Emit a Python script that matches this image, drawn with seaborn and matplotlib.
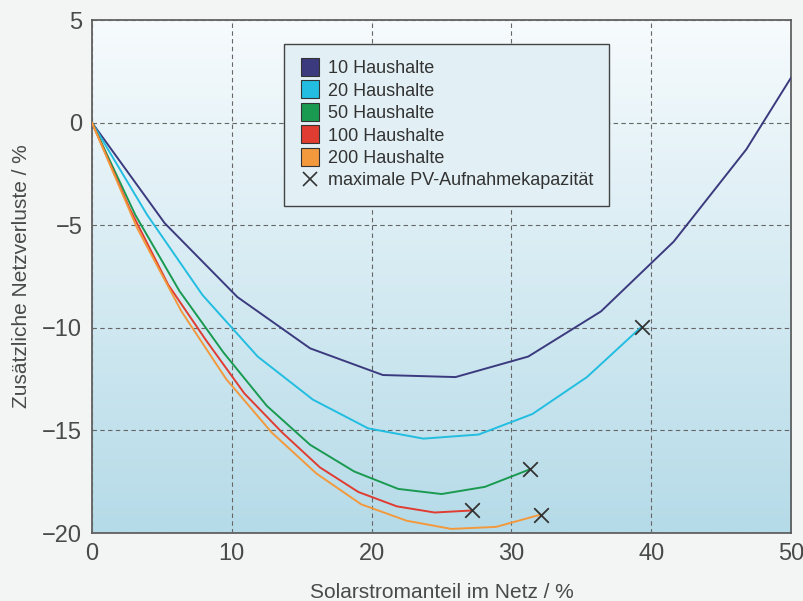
import numpy as np
import pandas as pd
import matplotlib
matplotlib.use('Agg')
import matplotlib.pyplot as plt
import seaborn as sns
from matplotlib.lines import Line2D
from matplotlib.colors import LinearSegmentedColormap

sns.set_style('white')
plt.rcParams['font.family'] = ['Liberation Sans', 'DejaVu Sans']

# Daten
x_10 = [0, 5.2, 10.4, 15.6, 20.8, 26.0, 31.2, 36.4, 41.6, 46.8, 50.0]
y_10 = [0, -4.9, -8.5, -11.0, -12.3, -12.4, -11.4, -9.2, -5.8, -1.3, 2.2]

x_20 = [0, 3.95, 7.9, 11.85, 15.8, 19.75, 23.7, 27.65, 31.5, 35.4, 39.3]
y_20 = [0, -4.5, -8.4, -11.4, -13.5, -14.9, -15.4, -15.2, -14.2, -12.4, -9.95]

x_50 = [0, 3.1, 6.25, 9.4, 12.5, 15.6, 18.75, 21.9, 25.0, 28.1, 31.3]
y_50 = [0, -4.5, -8.2, -11.2, -13.8, -15.7, -17.0, -17.85, -18.1, -17.75, -16.9]

x_100 = [0, 2.7, 5.45, 8.15, 10.9, 13.6, 16.3, 19.05, 21.8, 24.5, 27.2]
y_100 = [0, -4.2, -7.9, -10.6, -13.2, -15.1, -16.8, -18.0, -18.7, -19.0, -18.9]

x_200 = [0, 3.2, 6.4, 9.6, 12.85, 16.05, 19.25, 22.5, 25.7, 28.9, 32.1]
y_200 = [0, -5.1, -9.2, -12.5, -15.1, -17.1, -18.6, -19.4, -19.8, -19.7, -19.1]

labels = ['10 Haushalte', '20 Haushalte', '50 Haushalte', '100 Haushalte', '200 Haushalte']
colors = ['#3b3a7e', '#22bde0', '#1a9a50', '#e03c31', '#f3993d']

# Maximale PV-Aufnahmekapazitaet (Endpunkte)
max_x = [x_20[-1], x_50[-1], x_100[-1], x_200[-1]]
max_y = [y_20[-1], y_50[-1], y_100[-1], y_200[-1]]

frames = []
for lab, xs, ys in zip(labels, [x_10, x_20, x_50, x_100, x_200],
                       [y_10, y_20, y_50, y_100, y_200]):
    frames.append(pd.DataFrame({'x': xs, 'y': ys, 'Serie': lab}))
data = pd.concat(frames, ignore_index=True)
pts = pd.DataFrame({'x': max_x, 'y': max_y})

fig = plt.figure(figsize=(8.04, 6.01), dpi=100, facecolor='#f3f4f4')
ax = fig.add_axes([0.1144, 0.1131, 0.8696, 0.8536])

# Hintergrundverlauf
bg = LinearSegmentedColormap.from_list('bg', ['#f7fbfd', '#b5dbe8'])
ax.imshow(np.linspace(0, 1, 256).reshape(-1, 1), cmap=bg, aspect='auto',
          extent=[0, 50, -20, 5], zorder=0, origin='upper')

sns.lineplot(data=data, x='x', y='y', hue='Serie', palette=dict(zip(labels, colors)),
             sort=False, estimator=None, linewidth=1.4, ax=ax, legend=False, zorder=3)
sns.scatterplot(data=pts, x='x', y='y', marker='x', color='#333333', s=110,
                linewidth=1.3, ax=ax, zorder=4)

ax.set_xlim(0, 50)
ax.set_ylim(-20, 5)
ax.set_xticks([0, 10, 20, 30, 40, 50])
ax.set_yticks([-20, -15, -10, -5, 0, 5])
ax.set_yticklabels(['\u221220', '\u221215', '\u221210', '\u22125', '0', '5'])
ax.grid(True, color='#666666', linestyle=(0, (4, 3)), linewidth=0.8, zorder=1)
ax.set_axisbelow(False)
for line in ax.get_xgridlines() + ax.get_ygridlines():
    line.set_zorder(1)
ax.tick_params(axis='both', length=0, labelsize=17, labelcolor='#4a4a4a', pad=7)
for s in ax.spines.values():
    s.set_color('#555555')
    s.set_linewidth(1.2)
ax.set_xlabel('Solarstromanteil im Netz / %', fontsize=15, color='#4a4a4a', labelpad=13)
ax.set_ylabel('Zusätzliche Netzverluste / %', fontsize=15, color='#4a4a4a', labelpad=8)

handles = [Line2D([], [], linestyle='none', marker='s', markersize=13,
                  markerfacecolor=c, markeredgecolor='#333333', markeredgewidth=0.8)
           for c in colors]
handles.append(Line2D([], [], linestyle='none', marker='x', markersize=10,
                      color='#333333', markeredgewidth=1.2))
leg = ax.legend(handles, labels + ['maximale PV-Aufnahmekapazität'],
                loc='upper left', bbox_to_anchor=(0.275, 0.953), borderaxespad=0,
                fontsize=13, frameon=True, fancybox=False, framealpha=1,
                handletextpad=0.5, labelspacing=0.3, borderpad=0.9, handlelength=1.0)
leg.get_frame().set_facecolor('#e2f0f5')
leg.get_frame().set_edgecolor('#444444')
leg.get_frame().set_linewidth(1.0)
for t in leg.get_texts():
    t.set_color('#333333')
leg.set_zorder(5)

plt.savefig('out.png', dpi=100, facecolor=fig.get_facecolor())
